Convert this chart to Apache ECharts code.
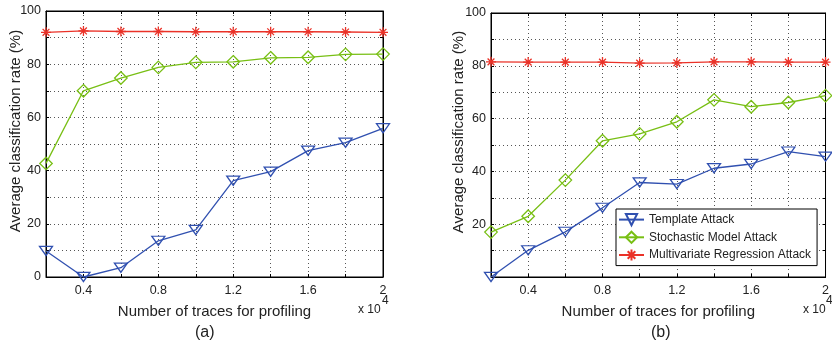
<!DOCTYPE html>
<html>
<head>
<meta charset="utf-8">
<script src="https://cdn.jsdelivr.net/npm/echarts@6/dist/echarts.min.js"></script>
<style>html,body{margin:0;padding:0;background:#fff}#c{width:832px;height:349px}</style>
</head>
<body>
<div id="c"></div>
<script>
// Number of profiling traces (x axis, shown in units of 10^4)
const traces = [2000, 4000, 6000, 8000, 10000, 12000, 14000, 16000, 18000, 20000];
// Panel (a)
const templateA     = [9.8, 0.0, 3.5, 13.6, 17.7, 36.2, 39.6, 47.5, 50.5, 55.9];
const stochasticA   = [42.7, 70.0, 74.8, 78.8, 80.7, 80.9, 82.4, 82.6, 83.7, 83.8];
const multivariateA = [92.0, 92.5, 92.3, 92.3, 92.2, 92.2, 92.2, 92.2, 92.1, 92.0];
// Panel (b)
const templateB     = [0.0, 10.1, 17.1, 26.2, 35.8, 35.2, 41.2, 42.8, 47.5, 45.6];
const stochasticB   = [17.0, 23.0, 36.7, 51.6, 54.2, 58.8, 67.1, 64.5, 66.1, 68.7];
const multivariateB = [81.5, 81.4, 81.4, 81.4, 81.0, 81.1, 81.5, 81.5, 81.4, 81.4];
const seriesNames = ['Template Attack', 'Stochastic Model Attack', 'Multivariate Regression Attack'];
const xTickLabels = ['0.4', '0.8', '1.2', '1.6', '2'];
const yTickLabelsA = ['0', '20', '40', '60', '80', '100'];
const yTickLabelsB = ['20', '40', '60', '80', '100'];

const FONT = 'Liberation Sans, Arial, sans-serif';
const TXT = '#222';
const colors = ['#3050b0', '#78bf14', '#ea3228'];
const symbols = [
  'path://M0,0L12,0L6,10Z',
  'diamond',
  'path://M5,0L5,10M0,5L10,5M1.6,1.6L8.4,8.4M1.6,8.4L8.4,1.6'
];
const sizes = [[13, 11], 12.5, 10];

const grids = [
  {left: 46, right: 449, top: 11, bottom: 72, show: true, borderColor: '#000', borderWidth: 1},
  {left: 491, right: 5, top: 13, bottom: 72, show: true, borderColor: '#000', borderWidth: 1}
];

function xLabel(v) {
  const s = String(v / 10000);
  return xTickLabels.indexOf(s) >= 0 ? s : '';
}
function mkX(gi, pos) {
  const bottom = pos === 'bottom';
  return {
    type: 'value', gridIndex: gi, position: pos, min: traces[0], max: traces[traces.length - 1], interval: 2000,
    axisLine: {show: true, onZero: false, lineStyle: {color: '#000', width: 1}},
    axisTick: {show: true, inside: true, length: 3, lineStyle: {color: '#000'}},
    axisLabel: {show: bottom, formatter: xLabel, fontFamily: FONT, fontSize: 12.5, color: TXT, margin: 7, showMaxLabel: true, showMinLabel: true},
    splitLine: {show: bottom, lineStyle: {type: [1, 3], color: '#555', width: 1}},
    name: bottom ? 'Number of traces for profiling' : '', nameLocation: 'middle', nameGap: 27,
    nameMoveOverlap: false,
    nameTextStyle: {fontFamily: FONT, fontSize: 15, color: TXT}
  };
}
function mkY(gi, pos, labels) {
  const left = pos === 'left';
  return {
    type: 'value', gridIndex: gi, position: pos, min: 0, max: 100, interval: 10,
    axisLine: {show: true, onZero: false, lineStyle: {color: '#000', width: 1}},
    axisTick: {show: true, inside: true, length: 3, lineStyle: {color: '#000'}},
    axisLabel: {show: left, fontFamily: FONT, fontSize: 12.5, color: TXT, margin: 5,
      formatter: v => labels.indexOf(String(v)) >= 0 ? String(v) : ''},
    splitLine: {show: left, lineStyle: {type: [1, 3], color: '#555', width: 1}},
    name: left ? 'Average classification rate (%)' : '', nameLocation: 'middle', nameGap: gi === 0 ? 23 : 25,
    nameMoveOverlap: false,
    nameTextStyle: {fontFamily: FONT, fontSize: 15, color: TXT, padding: [0, 0, 0, 26]}
  };
}

const xAxes = [mkX(0, 'bottom'), mkX(1, 'bottom'), mkX(0, 'top'), mkX(1, 'top')];
const yAxes = [mkY(0, 'left', yTickLabelsA), mkY(1, 'left', yTickLabelsB), mkY(0, 'right', []), mkY(1, 'right', [])];

const dataSets = [[templateA, stochasticA, multivariateA], [templateB, stochasticB, multivariateB]];
const series = [];
dataSets.forEach((set, gi) => {
  set.forEach((vals, si) => {
    series.push({
      name: seriesNames[si], type: 'line', xAxisIndex: gi, yAxisIndex: gi,
      data: traces.map((t, i) => [t, vals[i]]),
      symbol: symbols[si], symbolSize: sizes[si], symbolKeepAspect: true, showAllSymbol: true,
      clip: false, animation: false,
      lineStyle: {color: colors[si], width: 1.3},
      itemStyle: {color: 'rgba(255,255,255,0)', borderColor: colors[si], borderWidth: 1.3},
      emphasis: {disabled: true},
      z: 3 + si
    });
  });
});

const chart = echarts.init(document.getElementById('c'), null, {renderer: 'canvas'});
chart.setOption({
  backgroundColor: '#fff',
  animation: false,
  grid: grids,
  xAxis: xAxes,
  yAxis: yAxes,
  series: series,
  legend: {
    data: seriesNames, orient: 'vertical', left: 616, top: 209,
    itemWidth: 25, itemHeight: 14, itemGap: 4.5, padding: [4, 6, 4, 2],
    backgroundColor: '#fff', borderColor: '#000', borderWidth: 1,
    textStyle: {fontFamily: FONT, fontSize: 12, color: TXT},
    selectedMode: false
  },
  graphic: [
    {type: 'text', left: 358, top: 304, style: {text: 'x 10', font: '12px ' + FONT, fill: TXT}},
    {type: 'text', left: 382, top: 295, style: {text: '4', font: '12px ' + FONT, fill: TXT}},
    {type: 'text', left: 803, top: 304, style: {text: 'x 10', font: '12px ' + FONT, fill: TXT}},
    {type: 'text', left: 826, top: 295, style: {text: '4', font: '12px ' + FONT, fill: TXT}},
    {type: 'text', left: 195, top: 325, style: {text: '(a)', font: '16px ' + FONT, fill: TXT}},
    {type: 'text', left: 651, top: 325, style: {text: '(b)', font: '16px ' + FONT, fill: TXT}}
  ]
});
</script>
</body>
</html>
